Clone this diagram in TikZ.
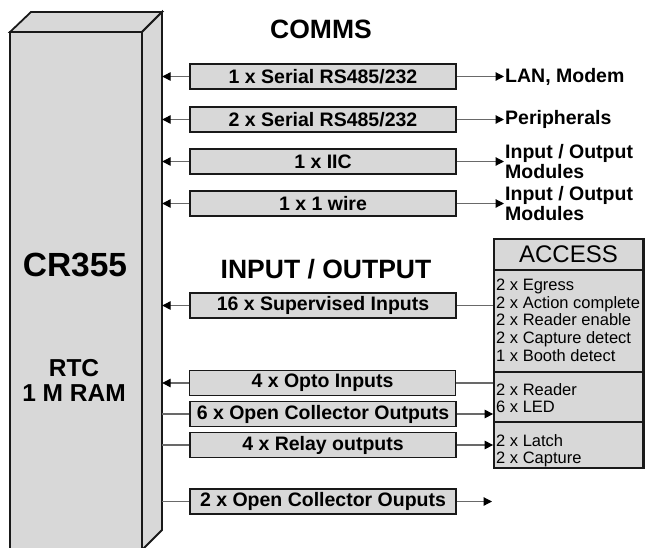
\documentclass[tikz,border=0pt]{standalone}
\usepackage{fontspec}
\setmainfont{Liberation Sans}
\usetikzlibrary{arrows.meta}
\definecolor{boxgray}{RGB}{216,216,216}
\definecolor{linegray}{RGB}{105,105,105}
\definecolor{edgeblack}{RGB}{25,25,25}
\begin{document}
\begin{tikzpicture}[x=1pt,y=-1pt,
  mainbox/.style={draw=edgeblack, line width=1.8pt, fill=boxgray, line join=miter},
  ibox/.style={draw=edgeblack, line width=1.8pt, fill=boxgray, minimum width=266pt, minimum height=25pt, inner sep=0pt, font=\fontsize{19.5}{19.5}\selectfont\bfseries},
  conn/.style={draw=linegray, line width=1.2pt},
  arr/.style={conn, -{Triangle[length=8.5pt,width=8.5pt,color=black]}},
  lbl/.style={anchor=west, inner sep=1pt, align=left, font=\fontsize{19.5}{17}\selectfont\bfseries},
  title/.style={inner sep=0pt, font=\fontsize{26.5}{27}\selectfont\bfseries},
  acc/.style={draw=edgeblack, line width=1.8pt, fill=boxgray, minimum width=149pt, inner sep=0pt},
  acctext/.style={anchor=north west, inner sep=0pt, align=left, font=\fontsize{16.5}{17.6}\selectfont}
]
\useasboundingbox (0,0) rectangle (645,547);
\clip (0,0) rectangle (645,547);
\fill[white] (0,0) rectangle (645,547);

% main 3D box
\filldraw[mainbox] (10,32) -- (142,32) -- (142,560) -- (10,560) -- cycle;
\filldraw[mainbox] (10,32) -- (31,12) -- (162,12) -- (142,32) -- cycle;
\filldraw[mainbox] (142,32) -- (162,12) -- (162,530) -- (142,550) -- cycle;
\node[inner sep=0pt, minimum width=20pt, minimum height=518pt] (side) at (152,271) {};
\node[inner sep=0pt, font=\fontsize{33.5}{33.5}\selectfont\bfseries] (cr) at (75,265) {CR355};
\node[inner sep=0pt, align=center, font=\fontsize{24.5}{25}\selectfont\bfseries] (rtc) at (74,380) {RTC\\1 M RAM};

% titles
\node[title] (comms) at (321,29) {COMMS};
\node[title] (io) at (326,269) {INPUT / OUTPUT};

% comms boxes
\node[ibox] (b1) at (323,76.5) {1 x Serial RS485/232};
\node[ibox] (b2) at (323,119.5) {2 x Serial RS485/232};
\node[ibox] (b3) at (323,161.5) {1 x IIC};
\node[ibox] (b4) at (323,203.5) {1 x 1 wire};

% io boxes
\node[ibox] (sup) at (323,305.5) {16 x Supervised Inputs};
\node[ibox] (opto) at (322.5,383) {4 x Opto Inputs};
\node[ibox] (oc6) at (323,414) {6 x Open Collector Outputs};
\node[ibox] (relay) at (323,445) {4 x Relay outputs};
\node[ibox] (oc2) at (323,501.5) {2 x Open Collector Ouputs};

% comms labels
\node[lbl] (lan) at (504,76.5) {LAN, Modem};
\node[lbl] (per) at (504,119.5) {Peripherals};
\node[lbl] (iom1) at (504,161.5) {Input / Output\\Modules};
\node[lbl] (iom2) at (504,203.5) {Input / Output\\Modules};

% ACCESS block
\node[acc, minimum height=31pt, font=\fontsize{24}{24}\selectfont] (acch) at (568.5,254.5) {ACCESS};
\node[acc, minimum height=102pt] (s1) at (568.5,321) {};
\node[acc, minimum height=50pt] (s2) at (568.5,397) {};
\node[acc, minimum height=46pt] (s3) at (568.5,445) {};
\node[acctext] (t1) at (496,279) {2 x Egress\\2 x Action complete\\2 x Reader enable\\2 x Capture detect\\1 x Booth detect};
\node[acctext] (t2) at (496,383) {2 x Reader\\6 x LED};
\node[acctext] (t3) at (496,434) {2 x Latch\\2 x Capture};
\draw[edgeblack, line width=1.8pt] (acch.north east) -- (s3.south east);

% left connectors
\draw[arr] (b1.west) -- (b1.west -| side.east);
\draw[arr] (b2.west) -- (b2.west -| side.east);
\draw[arr] (b3.west) -- (b3.west -| side.east);
\draw[arr] (b4.west) -- (b4.west -| side.east);
\draw[arr] (sup.west) -- (sup.west -| side.east);
\draw[arr] (opto.west) -- (opto.west -| side.east);
\draw[conn] (oc6.west) -- (oc6.west -| side.east);
\draw[conn] (relay.west) -- (relay.west -| side.east);
\draw[conn] (oc2.west) -- (oc2.west -| side.east);

% right connectors
\draw[arr] (b1.east) -- (lan.west);
\draw[arr] (b2.east) -- (per.west);
\draw[arr] (b3.east) -- (iom1.west);
\draw[arr] (b4.east) -- (iom2.west);
\draw[conn] (sup.east) -- (sup.east -| s1.west);
\draw[conn] (opto.east) -- (opto.east -| s2.west);
\draw[arr] (oc6.east) -- (oc6.east -| s2.west);
\draw[arr] (relay.east) -- (relay.east -| s3.west);
\coordinate (oc2end) at (492,501.5);
\draw[arr] (oc2.east) -- (oc2end);
\end{tikzpicture}
\end{document}
